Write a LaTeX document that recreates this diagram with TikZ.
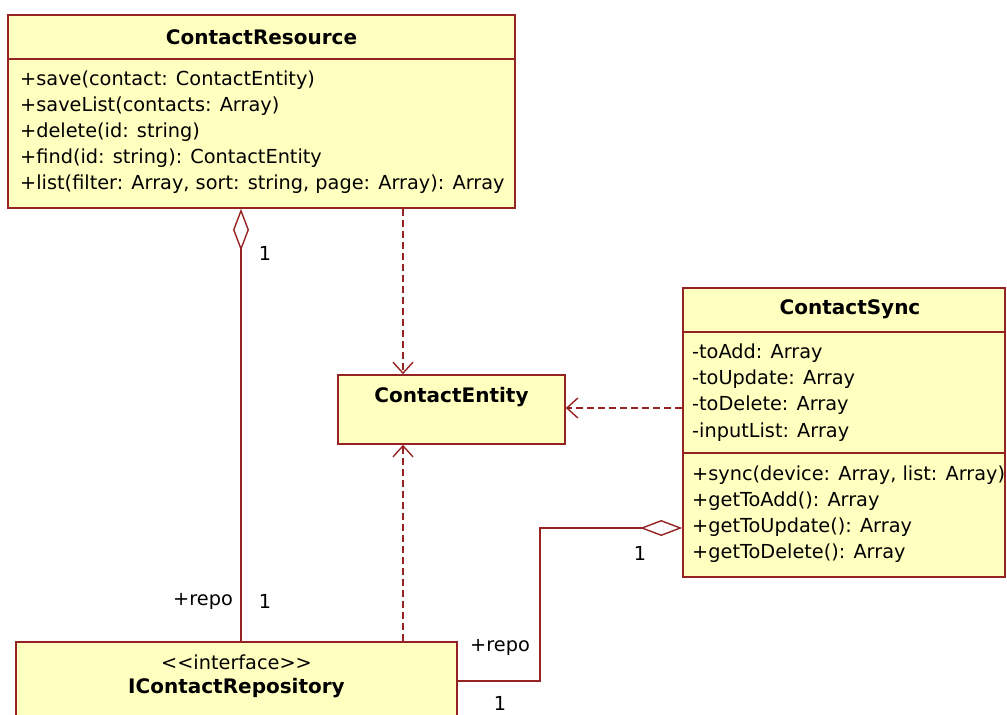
\documentclass[tikz,border=0pt]{standalone}
\usepackage{fontspec}
\setmainfont{DejaVu Sans}
\usetikzlibrary{arrows.meta}
\definecolor{umlline}{RGB}{150,35,35}
\definecolor{umlfill}{RGB}{255,255,192}
\tikzset{
  classbox/.style={draw=umlline, fill=umlfill, line width=1.6pt, inner sep=0pt, rectangle},
  sepline/.style={draw=umlline, line width=1.6pt},
  title/.style={font=\fontsize{20}{24}\selectfont\bfseries, inner sep=0pt},
  member/.style={font=\fontsize{19.3}{23}\selectfont, anchor=west, inner sep=0pt},
  lbl/.style={font=\fontsize{19.3}{23}\selectfont, inner sep=0pt},
  dep/.style={draw=umlline, line width=1.6pt, dash pattern=on 7pt off 4pt,
    -{Straight Barb[length=11pt, width=20pt, line width=1.4pt]}},
  aggr/.style={draw=umlline, line width=1.6pt,
    {Diamond[open, fill=white, length=42pt, width=16pt, line width=1.4pt]}-},
}
\begin{document}
\begin{tikzpicture}[x=1pt, y=-1pt]
\useasboundingbox (0,0) rectangle (1007,715);
\clip (0,0) rectangle (1007,715);

% ContactResource
\node[classbox, minimum width=507pt, minimum height=193pt] (cr) at (261.5,111.5) {};
\draw[sepline] (8,59) -- (515,59);
\node[title] (crt) at (261.5,37) {ContactResource};
\node[member] (cr1) at (20,80) {+save(contact: ContactEntity)};
\node[member] (cr2) at (20,106) {+saveList(contacts: Array)};
\node[member] (cr3) at (20,132) {+delete(id: string)};
\node[member] (cr4) at (20,158) {+find(id: string): ContactEntity};
\node[member] (cr5) at (20,184) {+list(filter: Array, sort: string, page: Array): Array};

% ContactEntity
\node[classbox, minimum width=227pt, minimum height=69pt] (ce) at (451.5,409.5) {};
\node[title] (cet) at (451.5,397) {ContactEntity};

% ContactSync
\node[classbox, minimum width=322pt, minimum height=289pt] (cs) at (844,432.5) {};
\draw[sepline] (683,332) -- (1005,332);
\draw[sepline] (683,453) -- (1005,453);
\node[title] (cst) at (850,309) {ContactSync};
\node[member] (cs1) at (692,353) {-toAdd: Array};
\node[member] (cs2) at (692,379) {-toUpdate: Array};
\node[member] (cs3) at (692,405) {-toDelete: Array};
\node[member] (cs4) at (692,432) {-inputList: Array};
\node[member] (cs5) at (692,475) {+sync(device: Array, list: Array)};
\node[member] (cs6) at (692,501) {+getToAdd(): Array};
\node[member] (cs7) at (692,527) {+getToUpdate(): Array};
\node[member] (cs8) at (692,553) {+getToDelete(): Array};

% IContactRepository
\node[classbox, minimum width=441pt, minimum height=140pt] (icr) at (236.5,712) {};
\node[lbl] (icrs) at (236.5,662) {{<}{<}interface{>}{>}};
\node[title] (icrt) at (236.5,688) {IContactRepository};

% connector routing points
\coordinate (aggx) at (241,0);
\coordinate (depx) at (403,0);
\coordinate (depy) at (0,408);
\coordinate (aggy) at (0,528);
\coordinate (bend1) at (540,528);
\coordinate (bend2) at (540,681);

% ContactResource <>-- IContactRepository
\draw[aggr] (cr.south -| aggx) -- (icr.north -| aggx);
\node[lbl] (m1) at (265,253) {1};
\node[lbl, anchor=east] (r1) at (233,601) {+repo};
\node[lbl] (m2) at (265,601) {1};

% dependencies on ContactEntity
\draw[dep] (cr.south -| depx) -- (ce.north -| depx);
\draw[dep] (icr.north -| depx) -- (ce.south -| depx);
\draw[dep] (cs.west |- depy) -- (ce.east |- depy);

% ContactSync <>-- IContactRepository
\draw[aggr] (cs.west |- aggy) -- (bend1) -- (bend2) -- (icr.east |- bend2);
\node[lbl] (m3) at (640,553) {1};
\node[lbl] (r2) at (500,647) {+repo};
\node[lbl] (m4) at (500,703) {1};
\end{tikzpicture}
\end{document}
